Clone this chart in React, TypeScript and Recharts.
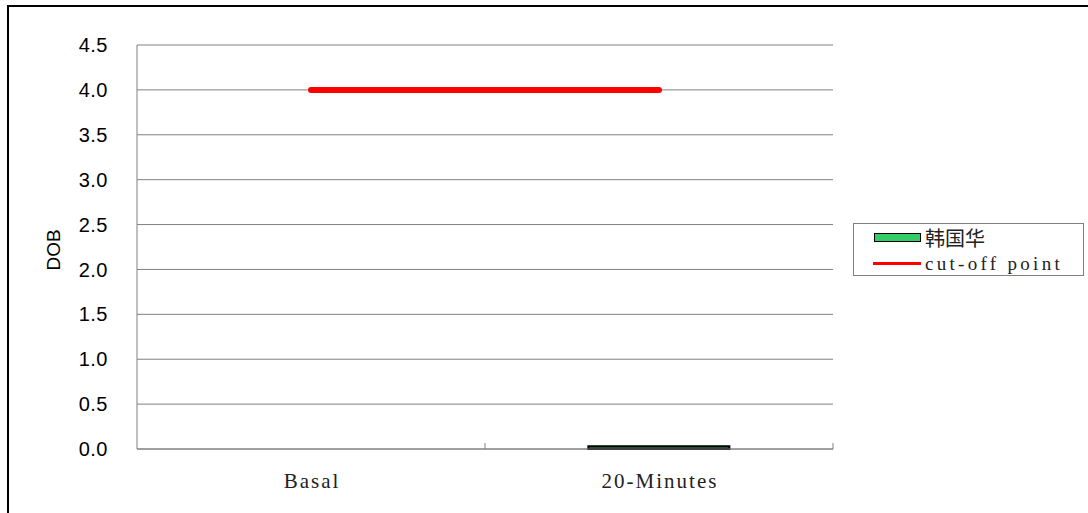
import { Bar, CartesianGrid, ComposedChart, Line, XAxis, YAxis } from "recharts";

const categories = ["Basal", "20-Minutes"];
const patientValues: (number | null)[] = [null, 0.03];
const cutoffValues = [4.0, 4.0];
const yTicks = [0, 0.5, 1, 1.5, 2, 2.5, 3, 3.5, 4, 4.5];
const seriesNames = ["韩国华", "cut-off point"];

const data = categories.map((name, i) => ({
  name,
  patient: patientValues[i],
  cutoff: cutoffValues[i],
}));

const WIDTH = 1088;
const HEIGHT = 513;
const MARGIN = { top: 45, right: 255, bottom: 24, left: 37 };
const Y_AXIS_WIDTH = 100;
const PLOT_WIDTH = WIDTH - MARGIN.left - MARGIN.right - Y_AXIS_WIDTH;
const X_TICK_MARGIN = 24;
const AXIS_GRAY = "#808080";
const SERIF = "'Liberation Serif', 'DejaVu Serif', serif";
const SANS = "'Liberation Sans', Arial, sans-serif";

function CategoryTick({ x, y, payload }: any) {
  // inward tick mark at the right edge of each category band
  const edge = x + PLOT_WIDTH / categories.length / 2;
  const axisY = y - X_TICK_MARGIN;
  return (
    <g>
      <line x1={edge} x2={edge} y1={axisY} y2={axisY - 6} stroke={AXIS_GRAY} />
      <text
        x={x + 1}
        y={y}
        dy="0.71em"
        textAnchor="middle"
        fill="#222"
        fontFamily={SERIF}
        fontSize={21}
        letterSpacing={2}
      >
        {payload.value}
      </text>
    </g>
  );
}

function Legend() {
  return (
    <div
      style={{
        position: "absolute",
        left: 853,
        top: 223,
        width: 231,
        height: 53,
        boxSizing: "border-box",
        border: `1px solid ${AXIS_GRAY}`,
        background: "#fff",
      }}
    >
      <div
        style={{
          position: "absolute",
          left: 20,
          top: 9,
          width: 45,
          height: 7,
          background: "#33cc66",
          border: "1.5px solid #000",
        }}
      />
      <div
        style={{
          position: "absolute",
          left: 71,
          top: 1,
          fontFamily: "'Noto Sans CJK SC', sans-serif",
          fontSize: 20,
          lineHeight: "26px",
          color: "#222",
        }}
      >
        {seriesNames[0]}
      </div>
      <div style={{ position: "absolute", left: 19, top: 38, width: 48, height: 3, background: "#ff0000" }} />
      <div
        style={{
          position: "absolute",
          left: 71,
          top: 28,
          fontFamily: SERIF,
          fontSize: 19,
          letterSpacing: 3.3,
          lineHeight: "24px",
          color: "#222",
          whiteSpace: "nowrap",
        }}
      >
        {seriesNames[1]}
      </div>
    </div>
  );
}

export default function App() {
  return (
    <div
      style={{
        position: "absolute",
        left: 0,
        top: 0,
        width: WIDTH,
        height: HEIGHT,
        overflow: "hidden",
        background: "#fff",
      }}
    >
      <div
        style={{
          position: "absolute",
          left: 7,
          top: 5,
          width: WIDTH + 40,
          height: HEIGHT + 40,
          border: "2px solid #000",
        }}
      />
      <div style={{ position: "absolute", left: 0, top: 0 }}>
        <ComposedChart width={WIDTH} height={HEIGHT} data={data} margin={MARGIN} barCategoryGap="29.7%">
          <CartesianGrid vertical={false} stroke={AXIS_GRAY} />
          <XAxis
            dataKey="name"
            height={40}
            axisLine={{ stroke: AXIS_GRAY }}
            tickLine={false}
            tickSize={0}
            tickMargin={X_TICK_MARGIN}
            tick={<CategoryTick />}
          />
          <YAxis
            width={Y_AXIS_WIDTH}
            domain={[0, 4.5]}
            ticks={yTicks}
            interval={0}
            tickFormatter={(v: number) => v.toFixed(1)}
            axisLine={{ stroke: AXIS_GRAY }}
            tickLine={false}
            tickSize={0}
            tickMargin={29}
            tick={{ fill: "#000", fontSize: 20, fontFamily: SANS, letterSpacing: 0.5 }}
            label={{
              content: ({ viewBox }: any) => {
                const cx = viewBox.x + 16;
                const cy = viewBox.y + viewBox.height / 2 + 3;
                return (
                  <text
                    x={cx}
                    y={cy}
                    transform={`rotate(-90, ${cx}, ${cy})`}
                    textAnchor="middle"
                    dominantBaseline="central"
                    fill="#000"
                    fontSize={19}
                    fontFamily={SANS}
                  >
                    DOB
                  </text>
                );
              },
            }}
          />
          <Bar
            dataKey="patient"
            name={seriesNames[0]}
            fill="#1f7a3a"
            stroke="#000"
            strokeWidth={2}
            isAnimationActive={false}
          />
          <Line
            dataKey="cutoff"
            name={seriesNames[1]}
            stroke="#ff0000"
            strokeWidth={6}
            strokeLinecap="round"
            dot={false}
            activeDot={false}
            isAnimationActive={false}
          />
        </ComposedChart>
      </div>
      <Legend />
    </div>
  );
}
